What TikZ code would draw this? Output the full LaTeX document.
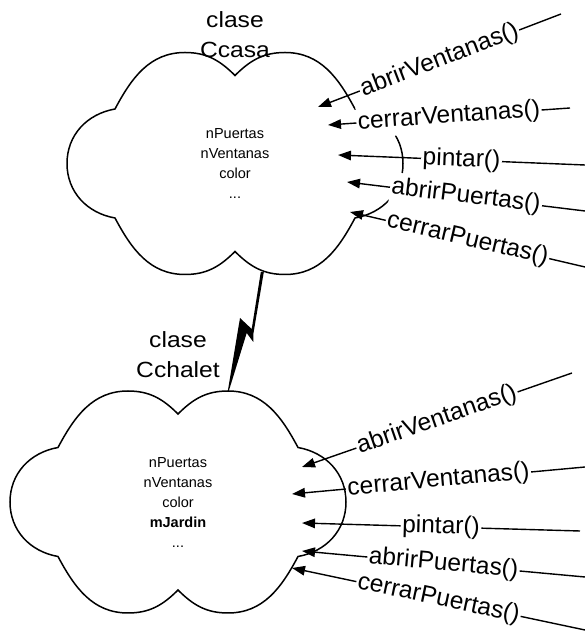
\documentclass[tikz,border=0pt]{standalone}
\usepackage{fontspec}
\setmainfont{Liberation Sans}
\newfontfamily\anchafont[FakeStretch=1.12]{Liberation Sans}
\usetikzlibrary{arrows.meta}

\begin{document}
\begin{tikzpicture}[x=1pt,y=1pt,>={Triangle[length=13pt,width=9.5pt]},line width=1.4pt,
	nube/.pic={\draw[line width=1.5pt] (0,88) to[out=135,in=0] (-50,111) to[out=180,in=62] (-120,54.5)
		to[out=190,in=90] (-168,0) to[out=-90,in=170] (-120,-54.5)
		to[out=-62,in=180] (-50,-111) to[out=0,in=-135] (0,-88)
		to[out=-45,in=180] (50,-111) to[out=0,in=-118] (120,-54.5)
		to[out=10,in=-90] (168,0) to[out=90,in=-10] (120,54.5)
		to[out=118,in=0] (50,111) to[out=180,in=45] (0,88) -- cycle;},
	titulo/.style={align=center,font=\anchafont\fontsize{22}{30}\selectfont},
	atributos/.style={align=center,font=\fontsize{14.5}{20}\selectfont},
	mensaje/.style={sloped,fill=white,inner xsep=1.5pt,inner ysep=4pt,font=\fontsize{24.5}{28}\selectfont}]
		\useasboundingbox (0,0) rectangle (585,632);
		\pic at (235,468.5) {nube};
		\pic at (178,130) {nube};
		\node[titulo] (tCasa) at (235,597) {clase\\Ccasa};
		\node[titulo] (tChalet) at (178,277.5) {clase\\Cchalet};
		\node[atributos] (aCasa) at (235,468) {nPuertas\\nVentanas\\color\\...};
		\node[atributos] (aChalet) at (178,129) {nPuertas\\nVentanas\\color\\\textbf{mJardin}\\...};
		\coordinate (rayoA) at (262.3,360);
		\coordinate (rayoB) at (228.3,241);
		\fill (rayoA) ++(-1.5,0) -- ++(3,0) -- (253.5,299) -- (253.3,290) -- (246.7,299)
			-- ([xshift=0.5pt]rayoB) -- ([xshift=-0.5pt]rayoB) -- (240,314) -- (251.7,303) -- cycle;
		\coordinate (pCasa1) at (318,525);   \coordinate (fCasa1) at (561,618);
		\coordinate (pCasa2) at (328,507);   \coordinate (fCasa2) at (570,524);
		\coordinate (pCasa3) at (338,477);   \coordinate (fCasa3) at (585,467);
		\coordinate (pCasa4) at (347,450);   \coordinate (fCasa4) at (585,421);
		\coordinate (pCasa5) at (350,420);   \coordinate (fCasa5) at (585,365);
		\draw[->] (fCasa1) -- node[mensaje] (mCasa1) {abrirVentanas()} (pCasa1);
		\draw[->] (fCasa2) -- node[mensaje] (mCasa2) {cerrarVentanas()} (pCasa2);
		\draw[->] (fCasa3) -- node[mensaje] (mCasa3) {pintar()} (pCasa3);
		\draw[->] (fCasa4) -- node[mensaje] (mCasa4) {abrirPuertas()} (pCasa4);
		\draw[->] (fCasa5) -- node[mensaje] (mCasa5) {cerrarPuertas()} (pCasa5);
		\coordinate (pChalet1) at (302,165);   \coordinate (fChalet1) at (572,259);
		\coordinate (pChalet2) at (292,138);   \coordinate (fChalet2) at (585,165);
		\coordinate (pChalet3) at (302,109);   \coordinate (fChalet3) at (580,101);
		\coordinate (pChalet4) at (302,81);    \coordinate (fChalet4) at (585,55);
		\coordinate (pChalet5) at (292,64);    \coordinate (fChalet5) at (585,2);
		\draw[->] (fChalet1) -- node[mensaje] (mChalet1) {abrirVentanas()} (pChalet1);
		\draw[->] (fChalet2) -- node[mensaje] (mChalet2) {cerrarVentanas()} (pChalet2);
		\draw[->] (fChalet3) -- node[mensaje] (mChalet3) {pintar()} (pChalet3);
		\draw[->] (fChalet4) -- node[mensaje] (mChalet4) {abrirPuertas()} (pChalet4);
		\draw[->] (fChalet5) -- node[mensaje] (mChalet5) {cerrarPuertas()} (pChalet5);
\end{tikzpicture}
\end{document}
